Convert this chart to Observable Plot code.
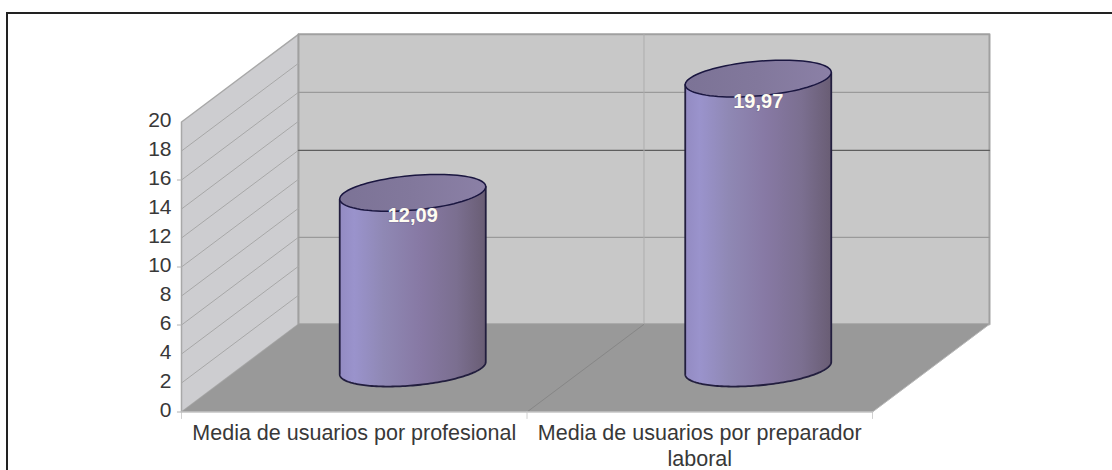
<!DOCTYPE html>
<html>
<head>
<meta charset="utf-8">
<script src="https://cdn.jsdelivr.net/npm/d3@7"></script>
<script src="https://cdn.jsdelivr.net/npm/@observablehq/plot@0.6"></script>
<style>
html,body{margin:0;padding:0;background:#fff;overflow:hidden}
#frame{position:absolute;left:6px;top:12px;right:-5px;bottom:-5px;border-left:2px solid #222;border-top:2px solid #222}
#chart{position:absolute;left:0;top:0}
#chart svg{display:block}
</style>
</head>
<body>
<div id="frame"></div>
<div id="chart"></div>
<script>
// Data
const categories = ["Media de usuarios por profesional", "Media de usuarios por preparador\nlaboral"];
const values = [12.09, 19.97];
const valueLabels = ["12,09", "19,97"];
const yTicks = [0, 2, 4, 6, 8, 10, 12, 14, 16, 18, 20];
const visibleYTicks = [0, 6, 10, 16];
const sideGrid = [2, 4, 6, 8, 10, 12, 14, 16, 18];
const backGridDark = [12];
const backGridLight = [6, 16];

// Oblique projection of (category position, depth 0..1, value) into plot units
const depthX = 0.3386, depthY = 6.05, radius = 0.199, radiusDepth = 0.21;
const px = (u, w) => u + w * depthX;
const py = (v, w) => v + w * depthY;
const P = (u, w, v) => ({x: px(u, w), y: py(v, w)});
const seg = (a, b) => [a, b];

const poly = (pts, o) => Plot.line(pts, {x: "x", y: "y", curve: "linear-closed", ...o});
const line = (pts, o) => Plot.line(pts, {x: "x", y: "y", ...o});

// Ellipse of a cylinder section at height v
const ring = (c, v, t0, t1, n = 90) => d3.range(n + 1).map(i => {
  const t = t0 + (t1 - t0) * i / n;
  return P(c + radius * Math.cos(t), 0.5 + radiusDepth * Math.sin(t), v);
});
const extreme = Math.atan2(radiusDepth * depthX, radius); // silhouette angle

function cylinderMarks(i) {
  const c = i + 0.5, v = values[i];
  const front = ring(c, 0, Math.PI + extreme, 2 * Math.PI + extreme);
  const rt = P(c + radius * Math.cos(extreme), 0.5 + radiusDepth * Math.sin(extreme), v);
  const lt = P(c - radius * Math.cos(extreme), 0.5 - radiusDepth * Math.sin(extreme), v);
  const outline = [lt, ...front, rt];
  return [
    poly(outline, {fill: "url(#body)", stroke: "none"}),
    line(outline, {stroke: "#221e3e", strokeWidth: 1.8}),
    poly(ring(c, v, 0, 2 * Math.PI), {fill: "url(#cap)", stroke: "#1a1640", strokeWidth: 1.5})
  ];
}

const gridLine = (v, w0, w1) => seg(P(0, w0, v), P(0, w1, v));
const backLine = v => seg(P(0, 1, v), P(2, 1, v));

const defs = () => {
  const d = d3.create("svg:defs");
  const grad = (id, stops) => {
    const g = d.append("linearGradient").attr("id", id).attr("x1", 0).attr("x2", 1).attr("y1", 0).attr("y2", 0);
    stops.forEach(([o, c]) => g.append("stop").attr("offset", o).attr("stop-color", c));
  };
  grad("body", [[0, "#938bc2"], [0.1, "#9a93cc"], [0.3, "#8f88b4"], [0.55, "#8779a4"], [0.8, "#7b6f90"], [1, "#695d74"]]);
  grad("cap", [[0, "#7c7396"], [0.5, "#82789c"], [1, "#8b80a6"]]);
  return d.node();
};

const plot = Plot.plot({
  width: 1112,
  height: 470,
  marginLeft: 181,
  marginRight: 240,
  marginTop: 121.5,
  marginBottom: 58.5,
  x: {domain: [0, 2], axis: null},
  y: {domain: [0, 20], axis: null},
  style: {fontFamily: "'Liberation Sans', Arial, sans-serif", background: "transparent", overflow: "visible"},
  marks: [
    defs,
    // walls and floor
    poly([P(0, 0, 0), P(0, 1, 0), P(0, 1, 20), P(0, 0, 20)], {fill: "#cdcdd0", stroke: "#a8a8a8", strokeWidth: 1.5}),
    poly([P(0, 1, 0), P(2, 1, 0), P(2, 1, 20), P(0, 1, 20)], {fill: "#c8c8c8", stroke: "#a0a0a0", strokeWidth: 2}),
    poly([P(0, 0, 0), P(2, 0, 0), P(2, 1, 0), P(0, 1, 0)], {fill: "#999999", stroke: "none"}),
    // grid
    ...sideGrid.map(v => line(gridLine(v, 0, 1), {stroke: "#a8a8a8", strokeWidth: 1})),
    ...backGridLight.map(v => line(backLine(v), {stroke: "#9a9a9a", strokeWidth: 1.2})),
    ...backGridDark.map(v => line(backLine(v), {stroke: "#5e5e5e", strokeWidth: 1.3})),
    line(seg(P(1, 1, 0), P(1, 1, 20)), {stroke: "#aeaeae", strokeWidth: 1}),
    line(seg(P(1, 0, 0), P(1, 1, 0)), {stroke: "#868686", strokeWidth: 1}),
    // axis lines and ticks
    line(seg(P(0, 0, 0), P(2, 0, 0)), {stroke: "#c4c4c4", strokeWidth: 1.5}),
    ...[0, 1, 2].map(u => line(seg({x: u, y: 0}, {x: u, y: -0.45}), {stroke: "#d0d0d0", strokeWidth: 1})),
    ...visibleYTicks.map(v => line(seg({x: -0.012, y: v}, {x: 0, y: v}), {stroke: "#b0b0b0", strokeWidth: 1})),
    line(seg(P(2, 0, 0), P(2, 1, 0)), {stroke: "#b8b8b8", strokeWidth: 1}),
    Plot.axisY({ticks: yTicks, label: null, tickSize: 0, tickPadding: 10, fontSize: 21, color: "#383838", dy: -1.5, tickFormat: d => String(d)}),
    // cylinders
    ...cylinderMarks(0),
    ...cylinderMarks(1),
    Plot.text(values, {
      x: (d, i) => px(i + 0.5, 0.5),
      y: d => py(d, 0.5),
      text: (d, i) => valueLabels[i],
      dy: 23,
      fill: "#fffdf2",
      fontSize: 20,
      fontWeight: "bold",
      stroke: "#6c6288",
      strokeWidth: 1.5,
      strokeOpacity: 0.35
    }),
    // category labels
    Plot.text(categories, {
      x: (d, i) => i + 0.5,
      y: () => 0,
      text: d => d,
      dy: 9,
      lineAnchor: "top",
      lineHeight: 1.23,
      fontSize: 21.5,
      fill: "#383838"
    })
  ]
});
document.getElementById("chart").append(plot);
</script>
</body>
</html>
